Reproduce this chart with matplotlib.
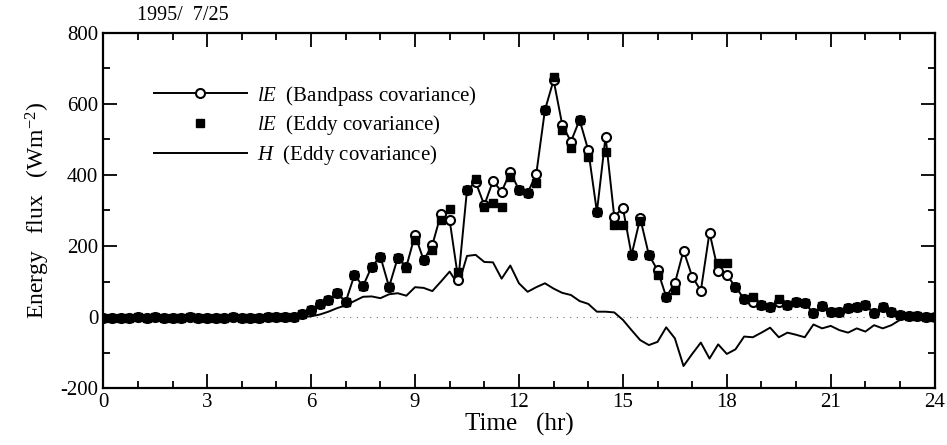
import numpy as np
import matplotlib
matplotlib.use('Agg')
import matplotlib.pyplot as plt
from matplotlib.lines import Line2D
from matplotlib.ticker import MultipleLocator

plt.rcParams['font.family'] = ['Liberation Serif', 'DejaVu Serif']
plt.rcParams['mathtext.fontset'] = 'custom'
plt.rcParams['mathtext.rm'] = 'Liberation Serif'
plt.rcParams['mathtext.it'] = 'Liberation Serif:italic'
plt.rcParams['axes.unicode_minus'] = False

nan = np.nan

# 15 minute values, 0:00 .. 24:00
time_hr = np.arange(97) * 0.25

le_eddy = [-3, -2, -3, -2, -1, -2, -1, -4, -2, -2, -1, -2, -3, -2, -2, -1,
           -3, -2, -2, -1, -1, 0, 1, 8, 20, 37, 48, 67, 43, 118, 87, 142,
           170, 85, 166, 137, 217, 160, 189, 274, 304, 127, 358, 390, 310, 322,
           310, 395, 358, 349, 377, 583, 677, 527, 475, 555, 451, 296, 466, 259,
           259, 175, 269, 175, 118, 57, 76, nan, nan, nan, nan, 153, 153, 85,
           51, 56, 34, 29, 51, 34, 43, 39, 11, 31, 15, 15, 25, 29, 34, 11,
           29, 15, 6, 3, 2, 1, 0]

le_bandpass = [-3, -2, -3, -2, -1, -2, -1, -4, -2, -2, -1, -2, -3, -2, -2, -1,
               -3, -2, -2, -1, -1, 0, 1, 8, 20, 37, 48, 67, 43, 118, 87, 142,
               170, 85, 166, 142, 231, 160, 203, 290, 272, 105, 358, 380, 315, 383,
               353, 409, 358, 349, 403, 583, 667, 541, 494, 555, 470, 296, 508, 283,
               307, 175, 278, 175, 132, 57, 95, 187, 114, 74, 238, 130, 118, 85,
               51, 42, 34, 29, 43, 34, 43, 39, 11, 31, 15, 15, 25, 29, 34, 11,
               29, 15, 6, 3, 2, 1, 0]

h_eddy = [-1, -1, -1, -1, -1, -1, -1, -1, -1, -1, -1, -1, -1, -1, -1, -1,
          -1, -1, -1, -1, -1, -1, 0, 0, 2, 7, 15, 25, 33, 45, 57, 58,
          53, 64, 67, 60, 84, 82, 73, 100, 128, 90, 172, 175, 155, 154,
          108, 145, 95, 71, 84, 95, 80, 68, 62, 45, 37, 15, 15, 13,
          -8, -37, -65, -79, -70, -29, -60, -138, -104, -72, -117, -77, -104, -91,
          -55, -57, -44, -30, -57, -44, -50, -57, -21, -32, -25, -37, -44, -32, -41, -23,
          -32, -23, -8, -3, -1, 0, 0]

fig, ax = plt.subplots(figsize=(9.47, 4.45), dpi=100)
fig.subplots_adjust(left=0.109, right=0.987, top=0.926, bottom=0.128)

ax.axhline(0, color='0.45', lw=0.8, ls=(0, (1, 5)), zorder=1)
ax.plot(time_hr, h_eddy, color='black', lw=1.4, zorder=2)
ax.plot(time_hr, le_bandpass, color='black', lw=1.4, marker='o', ms=6.5,
        mfc='white', mec='black', mew=1.5, zorder=3)
ax.plot(time_hr, le_eddy, ls='none', marker='s', ms=6, color='black', zorder=4)

ax.set_xlim(0, 24)
ax.set_ylim(-200, 800)
ax.xaxis.set_major_locator(MultipleLocator(3))
ax.xaxis.set_minor_locator(MultipleLocator(1))
ax.yaxis.set_major_locator(MultipleLocator(200))
ax.yaxis.set_minor_locator(MultipleLocator(100))
ax.tick_params(which='both', direction='in', top=True, right=True, labelsize=15,
               width=1.3)
ax.tick_params(which='major', length=10)
ax.tick_params(which='minor', length=5)
for s in ax.spines.values():
    s.set_linewidth(1.6)

ax.set_xlabel('Time   (hr)', fontsize=18, labelpad=1)
ax.set_ylabel(r'Energy   flux   (Wm$^{-2}$)', fontsize=17, labelpad=6)
ax.text(0.041, 1.022, '1995/  7/25', transform=ax.transAxes, fontsize=14.5,
        ha='left', va='bottom')

handles = [
    Line2D([], [], color='black', lw=1.4, marker='o', ms=6.5, mfc='white', mec='black', mew=1.5),
    Line2D([], [], ls='none', marker='s', ms=6, color='black'),
    Line2D([], [], color='black', lw=1.4),
]
labels = [r'$lE$  (Bandpass covariance)', r'$lE$  (Eddy covariance)',
          r'$H$  (Eddy covariance)']
ax.legend(handles, labels, loc='upper left', bbox_to_anchor=(0.038, 0.91),
          frameon=False, fontsize=15, handlelength=4.5, handletextpad=0.45,
          labelspacing=0.28)

fig.savefig('out.png', dpi=100)
